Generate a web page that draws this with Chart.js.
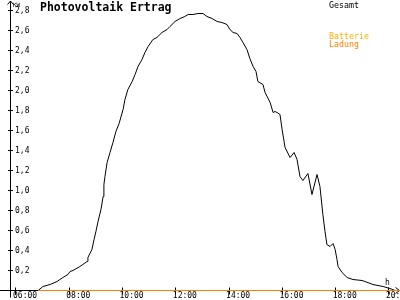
<!DOCTYPE html>
<html><head><meta charset="utf-8">
<script src="https://cdn.jsdelivr.net/npm/chart.js@4"></script>
<style>
html,body{margin:0;padding:0;background:#fff;}
#wrap{position:relative;width:400px;height:300px;overflow:hidden;background:#fff;}
canvas{position:absolute;left:0;top:0;}
.t{position:absolute;font-family:'DejaVu Sans Mono',monospace;white-space:nowrap;line-height:1;color:#000;}
</style></head><body>
<div id="wrap">
<canvas id="c" width="400" height="300"></canvas>
<div class="t" style="left:40px;top:2px;font-size:11.5px;font-weight:bold;">Photovoltaik Ertrag</div>
<div class="t" style="left:13px;top:2px;font-size:6px;">KW</div>
<div class="t" style="left:329px;top:1px;font-size:8.3px;">Gesamt</div>
<div class="t" style="left:329px;top:32px;font-size:8.3px;color:#ffb000;">Batterie</div>
<div class="t" style="left:329px;top:40px;font-size:8.3px;color:#ff8000;">Ladung</div>
<div class="t" style="left:385px;top:279px;font-size:8px;">h</div>
</div>
<script>
// Gesamt (kW) over time of day (decimal hours)
const hours = [
  6.83, 7.01, 7.28, 7.54, 7.76, 7.95, 8.03, 8.14, 8.40, 8.67,
  8.70, 8.85, 8.93, 9.00, 9.08, 9.19, 9.27, 9.30, 9.34, 9.42,
  9.53, 9.64, 9.75, 9.87, 10.02, 10.09, 10.20, 10.36, 10.47, 10.58,
  10.73, 10.84, 10.96, 11.14, 11.29, 11.48, 11.67, 11.78, 11.97, 12.16,
  12.34, 12.46, 12.64, 12.83, 13.02, 13.17, 13.36, 13.55, 13.73, 13.92,
  14.03, 14.15, 14.30, 14.41, 14.52, 14.67, 14.78, 14.90, 15.01, 15.08,
  15.27, 15.35, 15.54, 15.65, 15.72, 15.80, 15.91, 15.99, 16.10, 16.29,
  16.44, 16.55, 16.66, 16.77, 16.96, 17.11, 17.30, 17.41, 17.52, 17.60,
  17.67, 17.79, 17.90, 17.98, 18.05, 18.09, 18.24, 18.43, 18.65, 18.99,
  19.10, 19.40, 19.78, 20.04, 20.23
];
const gesamt = [
  0, 0.04, 0.06, 0.09, 0.13, 0.16, 0.19, 0.20, 0.24, 0.29,
  0.33, 0.41, 0.51, 0.59, 0.69, 0.81, 0.94, 1.06, 1.14, 1.28,
  1.38, 1.48, 1.59, 1.67, 1.81, 1.91, 2.01, 2.09, 2.16, 2.24,
  2.31, 2.38, 2.44, 2.51, 2.53, 2.58, 2.61, 2.64, 2.69, 2.72,
  2.74, 2.76, 2.76, 2.77, 2.77, 2.74, 2.72, 2.69, 2.68, 2.66,
  2.61, 2.58, 2.57, 2.53, 2.48, 2.41, 2.32, 2.24, 2.19, 2.09,
  2.06, 1.98, 1.88, 1.78, 1.79, 1.78, 1.76, 1.61, 1.43, 1.33,
  1.38, 1.31, 1.14, 1.10, 1.17, 0.96, 1.16, 1.04, 0.76, 0.59,
  0.46, 0.44, 0.47, 0.41, 0.31, 0.24, 0.18, 0.13, 0.11, 0.10,
  0.09, 0.06, 0.04, 0.02, 0
];
// Batterie Ladung
const ladungHours = [6.83, 20.42];
const ladung = [0, 0];
// Axis ticks
const xTickHours = [6, 8, 10, 12, 14, 16, 18, 20];
const xTickLabels = ['06:00', '08:00', '10:00', '12:00', '14:00', '16:00', '18:00', '20:00'];
const yTickValues = [0.2, 0.4, 0.6, 0.8, 1.0, 1.2, 1.4, 1.6, 1.8, 2.0, 2.2, 2.4, 2.6, 2.8];
const yTickLabels = ['0,2', '0,4', '0,6', '0,8', '1,0', '1,2', '1,4', '1,6', '1,8', '2,0', '2,2', '2,4', '2,6', '2,8'];

const FONT = 'DejaVu Sans Mono';

const axesPlugin = {
  id: 'axesPlugin',
  beforeDatasetsDraw(chart) {
    const {ctx, chartArea, scales: {x, y}} = chart;
    const ax = Math.round(chartArea.left) + 0.5;
    const ay = Math.round(y.getPixelForValue(0) - 0.5) + 0.5;
    ctx.save();
    ctx.strokeStyle = '#000';
    ctx.lineWidth = 1;
    ctx.beginPath();
    // x axis line with arrow
    ctx.moveTo(0, ay); ctx.lineTo(chart.width - 0.5, ay);
    ctx.moveTo(chart.width - 4.5, ay - 3); ctx.lineTo(chart.width - 0.5, ay); ctx.lineTo(chart.width - 4.5, ay + 3);
    // y axis line with arrow
    ctx.moveTo(ax, chartArea.top + 1); ctx.lineTo(ax, ay + 7);
    ctx.moveTo(ax - 3, chartArea.top + 4.5); ctx.lineTo(ax, chartArea.top + 1); ctx.lineTo(ax + 3, chartArea.top + 4.5);
    // y ticks
    y.ticks.forEach(t => {
      const py = Math.round(y.getPixelForValue(t.value) - 0.5) + 0.5;
      ctx.moveTo(ax - 2.5, py); ctx.lineTo(ax + 2.5, py);
    });
    // x ticks
    x.ticks.forEach(t => {
      const px = Math.round(x.getPixelForValue(t.value) - 0.5) + 0.5;
      ctx.moveTo(px, ay - 3); ctx.lineTo(px, ay + 4);
    });
    ctx.stroke();
    ctx.restore();
  }
};

new Chart(document.getElementById('c').getContext('2d'), {
  type: 'line',
  data: {
    datasets: [
      {
        label: 'Batterie Ladung',
        data: ladungHours.map((h, i) => ({x: h, y: ladung[i]})),
        borderColor: '#ff8000', borderWidth: 1, pointRadius: 0, tension: 0, clip: false, order: 0
      },
      {
        label: 'Gesamt',
        data: hours.map((h, i) => ({x: h, y: gesamt[i]})),
        borderColor: '#000', borderWidth: 1, pointRadius: 0, tension: 0, clip: false, order: 1
      }
    ]
  },
  options: {
    responsive: false, animation: false, devicePixelRatio: 1,
    layout: {padding: 0},
    plugins: {legend: {display: false}, tooltip: {enabled: false}, title: {display: false}},
    scales: {
      x: {
        type: 'linear', min: 5.775, max: 20.415,
        grid: {display: false, drawTicks: false, tickLength: 0}, border: {display: false},
        afterBuildTicks: s => { s.ticks = xTickHours.map(v => ({value: v})); },
        afterFit: s => { s.height = 10; s.paddingLeft = 0; s.paddingRight = 0; },
        ticks: {
          autoSkip: false, maxRotation: 0, minRotation: 0, align: 'start', labelOffset: -3, padding: 1,
          color: '#000', font: {family: FONT, size: 8},
          callback: (v, i) => xTickLabels[i]
        }
      },
      y: {
        type: 'linear', min: 0.005, max: 2.905,
        grid: {display: false, drawTicks: false, tickLength: 0}, border: {display: false},
        afterBuildTicks: s => { s.ticks = yTickValues.map(v => ({value: v})); },
        afterFit: s => { s.width = 10; s.paddingTop = 0; s.paddingBottom = 0; },
        ticks: {
          mirror: true, padding: 5, color: '#000', font: {family: FONT, size: 8},
          callback: (v, i) => yTickLabels[i]
        }
      }
    }
  },
  plugins: [axesPlugin]
});
</script>
</body></html>
